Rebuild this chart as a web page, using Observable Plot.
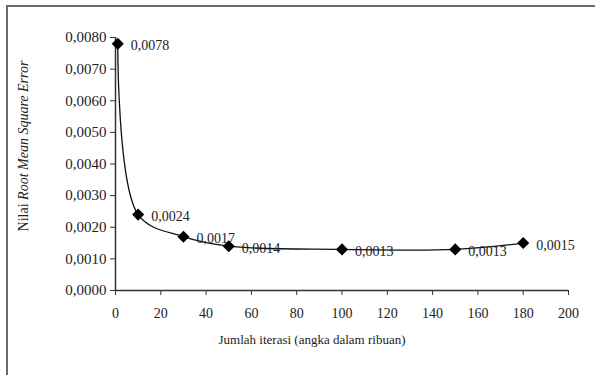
<!DOCTYPE html>
<html>
<head>
<meta charset="utf-8">
<script src="https://cdn.jsdelivr.net/npm/d3@7"></script>
<script src="https://cdn.jsdelivr.net/npm/@observablehq/plot@0.6"></script>
<style>
  html, body { margin: 0; padding: 0; background: #fff; }
  #wrap { position: relative; width: 595px; height: 375px; overflow: hidden; }
  #border { position: absolute; left: 6px; top: 5px; width: 600px; height: 400px;
            border-top: 2px solid #6a6a6a; border-left: 2px solid #6a6a6a; pointer-events: none; }
</style>
</head>
<body>
<div id="wrap"><div id="border"></div></div>
<script>
const iterations = [1, 10, 30, 50, 100, 150, 180];
const rmse = [0.0078, 0.0024, 0.0017, 0.0014, 0.0013, 0.0013, 0.0015];
const pointLabels = ["0,0078", "0,0024", "0,0017", "0,0014", "0,0013", "0,0013", "0,0015"];
const xTicks = [0, 20, 40, 60, 80, 100, 120, 140, 160, 180, 200];
const yTicks = [0, 0.001, 0.002, 0.003, 0.004, 0.005, 0.006, 0.007, 0.008];
const xTitle = "Jumlah iterasi (angka dalam ribuan)";
const yTitlePlain = "Nilai ";
const yTitleItalic = "Root Mean Square Error";

const data = iterations.map((x, i) => ({x, y: rmse[i], label: pointLabels[i]}));
const fmtY = d => d.toFixed(4).replace(".", ",");

const chart = Plot.plot({
  width: 595,
  height: 375,
  marginLeft: 115,
  marginRight: 27,
  marginTop: 37,
  marginBottom: 85,
  style: {background: "transparent"},
  x: {domain: [0, 200], ticks: xTicks, label: null},
  y: {domain: [0, 0.008], ticks: yTicks, label: null},
  marks: [
    Plot.axisX({ticks: xTicks, tickSize: 5, tickPadding: 13, tickFormat: d => String(d), fontSize: 14, stroke: "#333", fill: "#222"}),
    Plot.axisY({ticks: yTicks, tickSize: 5, tickPadding: 4, tickFormat: fmtY, fontSize: 15, stroke: "#333", fill: "#222"}),
    Plot.ruleY([0], {stroke: "#333", strokeWidth: 1.5}),
    Plot.ruleX([0], {stroke: "#333", strokeWidth: 1.5}),
    Plot.line(data, {x: "x", y: "y", curve: "catmull-rom", stroke: "#111", strokeWidth: 1.3}),
    Plot.dot(data, {x: "x", y: "y", symbol: "diamond2", r: 4.5, fill: "#000", stroke: "#000"}),
    Plot.text(data, {x: "x", y: "y", text: "label", dx: 13, dy: 2, textAnchor: "start", fontSize: 14, fill: "#222"})
  ]
});

const svg = d3.select(chart);
svg.append("text")
  .attr("x", 312).attr("y", 344)
  .attr("text-anchor", "middle")
  .attr("font-size", 13)
  .attr("fill", "#222")
  .text(xTitle);

const yt = svg.append("text")
  .attr("transform", "translate(28,146) rotate(-90)")
  .attr("text-anchor", "middle")
  .attr("font-size", 14)
  .attr("fill", "#222");
yt.append("tspan").text(yTitlePlain);
yt.append("tspan").attr("font-style", "italic").text(yTitleItalic);

svg.attr("font-family", "Liberation Serif");
svg.selectAll("g").attr("font-family", "Liberation Serif");
svg.selectAll("text").attr("font-family", "Liberation Serif").style("font-family", "Liberation Serif");

document.getElementById("wrap").prepend(chart);
</script>
</body>
</html>
